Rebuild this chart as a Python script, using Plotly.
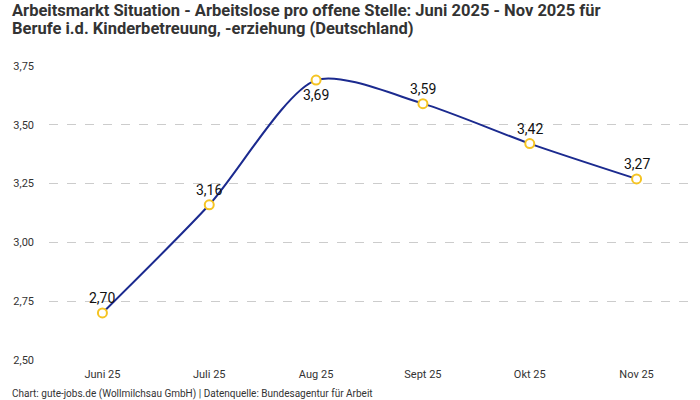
import plotly.graph_objects as go

months = ["Juni 25", "Juli 25", "Aug 25", "Sept 25", "Okt 25", "Nov 25"]
values = [2.70, 3.16, 3.69, 3.59, 3.42, 3.27]
labels = ["2,70", "3,16", "3,69", "3,59", "3,42", "3,27"]
label_shift = [1, 1, -1, 1, 1, 1]
y_ticks = [2.50, 2.75, 3.00, 3.25, 3.50, 3.75]
y_tick_text = ["2,50", "2,75", "3,00", "3,25", "3,50", "3,75"]
title_lines = [
    "Arbeitsmarkt Situation - Arbeitslose pro offene Stelle: Juni 2025 - Nov 2025 für",
    "Berufe i.d. Kinderbetreuung, -erziehung (Deutschland)",
]

FONT = "Roboto"
LEFT, RIGHT, TOP, BOTTOM = 49, 10, 66, 40
PLOT_H = 400 - TOP - BOTTOM
PLOT_W = 700 - LEFT - RIGHT

fig = go.Figure()
fig.add_trace(go.Scatter(
    x=months, y=values,
    mode="lines+markers",
    line=dict(color="#1b2a8f", width=2, shape="spline", smoothing=0.75),
    marker=dict(size=9, color="white", line=dict(color="#f5c423", width=2)),
    hoverinfo="skip",
))

annotations = []
for m, v, t, s in zip(months, values, labels, label_shift):
    annotations.append(dict(
        x=m, y=v, text=t, showarrow=False,
        yshift=15 * s, font=dict(family=FONT, size=14, color="#111111"),
    ))

for i, line in enumerate(title_lines):
    annotations.append(dict(
        text="<b>" + line + "</b>",
        xref="paper", yref="paper", x=-(LEFT - 10) / PLOT_W,
        y=1 + (TOP - 11 - 18 * i) / PLOT_H,
        xanchor="left", yanchor="middle", align="left", showarrow=False,
        font=dict(family=FONT, size=16.5, color="#333333"),
    ))
annotations.append(dict(
    text="Chart: gute-jobs.de (Wollmilchsau GmbH) | Datenquelle: Bundesagentur für Arbeit",
    xref="paper", yref="paper", x=-(LEFT - 10) / PLOT_W, y=-26 / PLOT_H,
    xanchor="left", yanchor="top", align="left", showarrow=False,
    font=dict(family=FONT, size=10, color="#333333"),
))

fig.update_layout(
    width=700, height=400,
    margin=dict(l=LEFT, r=RIGHT, t=TOP, b=BOTTOM, autoexpand=False),
    paper_bgcolor="white", plot_bgcolor="white",
    showlegend=False,
    separators=",.",
    font=dict(family=FONT, color="#333333"),
    xaxis=dict(
        type="category", range=[-0.5, 5.5],
        showgrid=False, showline=False, zeroline=False,
        ticks="", tickfont=dict(family=FONT, size=11, color="#333333"),
        ticklabelstandoff=6,
    ),
    yaxis=dict(
        range=[2.5, 3.75],
        tickvals=y_ticks, ticktext=y_tick_text,
        showgrid=True, gridcolor="#cccccc", griddash="dash", gridwidth=1,
        zeroline=False, showline=False, ticks="",
        tickfont=dict(family=FONT, size=11, color="#333333"),
        ticklabelstandoff=14,
    ),
    annotations=annotations,
)

fig.write_html("out.html", config={"displayModeBar": False},
               post_script="document.body.style.margin='0';")
